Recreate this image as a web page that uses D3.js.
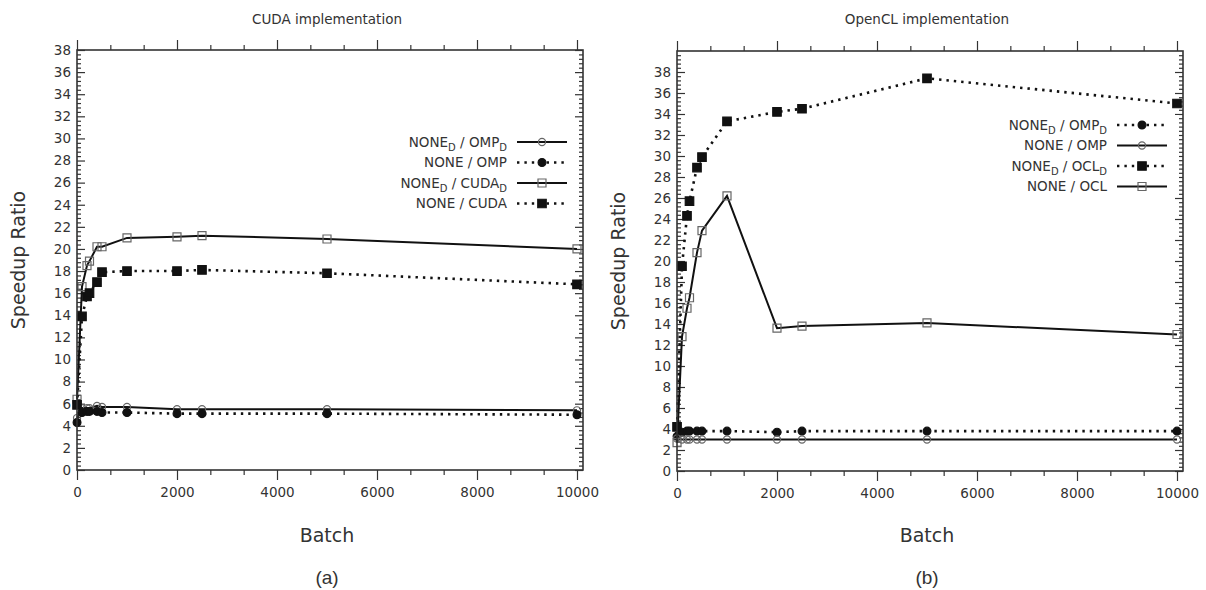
<!DOCTYPE html>
<html>
<head>
<meta charset="utf-8">
<script src="https://cdn.jsdelivr.net/npm/d3@7"></script>
<style>
body { margin: 0; background: #fff; }
text { font-family: "DejaVu Sans", sans-serif; fill: #333; }
</style>
</head>
<body>
<svg id="canvas"></svg>
<script>
let batch = [1, 100, 200, 250, 400, 500, 1000, 2000, 2500, 5000, 10000];

// CUDA panel
let cudaLabels = ['NONE_D / OMP_D', 'NONE / OMP', 'NONE_D / CUDA_D', 'NONE / CUDA'];
let cudaOmpD  = [4.7, 5.6, 5.6, 5.6, 5.8, 5.7, 5.7, 5.5, 5.5, 5.5, 5.4];
let cudaOmp   = [4.3, 5.2, 5.3, 5.3, 5.3, 5.2, 5.2, 5.1, 5.1, 5.1, 5.0];
let cudaCudaD = [6.4, 16.6, 18.5, 18.9, 20.2, 20.2, 21.0, 21.1, 21.2, 20.9, 20.0];
let cudaCuda  = [5.9, 13.9, 15.7, 16.0, 17.0, 17.9, 18.0, 18.0, 18.1, 17.8, 16.8];

// OpenCL panel
let oclLabels = ['NONE_D / OMP_D', 'NONE / OMP', 'NONE_D / OCL_D', 'NONE / OCL'];
let oclOmpD = [3.3, 3.7, 3.8, 3.8, 3.8, 3.8, 3.8, 3.7, 3.8, 3.8, 3.8];
let oclOmp  = [3.1, 3.0, 3.0, 3.0, 3.0, 3.0, 3.0, 3.0, 3.0, 3.0, 3.0];
let oclOclD = [4.2, 19.5, 24.3, 25.7, 28.9, 29.9, 33.3, 34.2, 34.5, 37.4, 35.0];
let oclOcl  = [2.7, 12.8, 15.5, 16.5, 20.8, 22.9, 26.2, 13.6, 13.8, 14.1, 13.0];

let xTicks = [0, 2000, 4000, 6000, 8000, 10000];
let yTicks = [0, 2, 4, 6, 8, 10, 12, 14, 16, 18, 20, 22, 24, 26, 28, 30, 32, 34, 36, 38];

let width = 1206;
let height = 590;

let canvas = d3.select('#canvas');
canvas.attr('width', width);
canvas.attr('height', height);

// marker / line styles
let openCircle  = {symbol: d3.symbolCircle, size: 40, fill: 'none', stroke: '#666', dotted: false};
let fullCircle  = {symbol: d3.symbolCircle, size: 48, fill: '#111', stroke: '#111', dotted: true};
let openSquare  = {symbol: d3.symbolSquare, size: 64, fill: 'none', stroke: '#666', dotted: false};
let fullSquare  = {symbol: d3.symbolSquare, size: 72, fill: '#111', stroke: '#111', dotted: true};

let panels = [
    {
        title: 'CUDA implementation', caption: '(a)',
        left: 77, right: 583, top: 50, bottom: 470, yMax: 38,
        labels: cudaLabels,
        values: [cudaOmpD, cudaOmp, cudaCudaD, cudaCuda],
        styles: [openCircle, fullCircle, openSquare, fullSquare],
        legendTop: 142
    },
    {
        title: 'OpenCL implementation', caption: '(b)',
        left: 677, right: 1183, top: 51, bottom: 471, yMax: 40,
        labels: oclLabels,
        values: [oclOmpD, oclOmp, oclOclD, oclOcl],
        styles: [fullCircle, openCircle, fullSquare, openSquare],
        legendTop: 125
    }
];

let addLabel = (sel, label) => {
    // "_D" turns into a subscript D
    let parts = label.split('_D');
    parts.forEach((part, i) => {
        sel.append('tspan').attr('dy', i > 0 ? '-4' : null).text(part);
        if (i < parts.length - 1) {
            sel.append('tspan').attr('font-size', 10).attr('dy', '4').text('D');
        }
    });
};

let drawPanel = (p) => {
    let xScale = d3.scaleLinear()
                   .domain([0, 10120])
                   .range([p.left, p.right]);
    let yScale = d3.scaleLinear()
                   .domain([0, p.yMax])
                   .range([p.bottom, p.top]);

    let g = canvas.append('g');

    let yMinor = d3.range(0, p.yMax + 0.01, 0.4).filter((v) => Math.abs(v / 2 - Math.round(v / 2)) > 0.01);
    let xMinor = d3.range(0, 10001, 2000 / 3).filter((v) => Math.abs(v / 2000 - Math.round(v / 2000)) > 0.01);

    let styleAxis = (a) => {
        a.attr('color', '#333').attr('font-family', null).attr('font-size', null);
        a.select('.domain').remove();
        a.selectAll('line').attr('stroke-width', 1.2);
        a.selectAll('text').attr('font-size', 13.5);
    };

    // y ticks, both sides, pointing in
    g.append('g').attr('transform', 'translate(' + p.left + ',0)')
     .call(d3.axisLeft(yScale).tickValues(yTicks).tickSize(-8).tickPadding(6))
     .call(styleAxis);
    g.append('g').attr('transform', 'translate(' + p.left + ',0)')
     .call(d3.axisLeft(yScale).tickValues(yMinor).tickSize(-4).tickFormat(''))
     .call(styleAxis);
    g.append('g').attr('transform', 'translate(' + p.right + ',0)')
     .call(d3.axisRight(yScale).tickValues(yTicks).tickSize(-8).tickFormat(''))
     .call(styleAxis);
    g.append('g').attr('transform', 'translate(' + p.right + ',0)')
     .call(d3.axisRight(yScale).tickValues(yMinor).tickSize(-4).tickFormat(''))
     .call(styleAxis);

    // x ticks, both sides, pointing out
    g.append('g').attr('transform', 'translate(0,' + p.bottom + ')')
     .call(d3.axisBottom(xScale).tickValues(xTicks).tickSize(10).tickPadding(7).tickFormat(d3.format('d')))
     .call(styleAxis);
    g.append('g').attr('transform', 'translate(0,' + p.bottom + ')')
     .call(d3.axisBottom(xScale).tickValues(xMinor).tickSize(5).tickFormat(''))
     .call(styleAxis);
    g.append('g').attr('transform', 'translate(0,' + p.top + ')')
     .call(d3.axisTop(xScale).tickValues(xTicks).tickSize(10).tickFormat(''))
     .call(styleAxis);
    g.append('g').attr('transform', 'translate(0,' + p.top + ')')
     .call(d3.axisTop(xScale).tickValues(xMinor).tickSize(5).tickFormat(''))
     .call(styleAxis);

    // legend box hides the minor ticks behind it
    let rowGap = 20.5;
    let legendRight = p.right - 76;
    g.append('rect')
     .attr('x', legendRight - 122)
     .attr('y', p.legendTop - 10)
     .attr('width', 122 + 72)
     .attr('height', rowGap * 3 + 20)
     .attr('fill', '#fff');

    let line = d3.line()
                 .x((d) => xScale(d.batch))
                 .y((d) => yScale(d.value));

    p.values.forEach((vals, i) => {
        let st = p.styles[i];
        let pts = batch.map((b, j) => ({batch: b, value: vals[j]}));

        g.append('path')
         .datum(pts)
         .attr('d', line)
         .attr('fill', 'none')
         .attr('stroke', '#111')
         .attr('stroke-width', st.dotted ? 2.6 : 2)
         .attr('stroke-dasharray', st.dotted ? '2.4,5' : null);

        g.selectAll('.m' + i)
         .data(pts)
         .enter()
         .append('path')
         .attr('class', 'm' + i)
         .attr('transform', (d) => 'translate(' + xScale(d.batch) + ',' + yScale(d.value) + ')')
         .attr('d', d3.symbol().type(st.symbol).size(st.size))
         .attr('fill', st.fill)
         .attr('stroke', st.stroke)
         .attr('stroke-width', 1.2);

        // legend row
        let ly = p.legendTop + i * rowGap;
        let t = g.append('text')
                 .attr('x', legendRight)
                 .attr('y', ly)
                 .attr('dy', '0.35em')
                 .attr('text-anchor', 'end')
                 .attr('font-size', 13.5);
        addLabel(t, p.labels[i]);

        g.append('line')
         .attr('x1', legendRight + 10).attr('x2', legendRight + 60)
         .attr('y1', ly).attr('y2', ly)
         .attr('stroke', '#111')
         .attr('stroke-width', st.dotted ? 2.6 : 2)
         .attr('stroke-dasharray', st.dotted ? '2.4,5' : null);
        g.append('path')
         .attr('transform', 'translate(' + (legendRight + 35) + ',' + ly + ')')
         .attr('d', d3.symbol().type(st.symbol).size(st.size))
         .attr('fill', st.fill)
         .attr('stroke', st.stroke)
         .attr('stroke-width', 1.2);
    });

    // frame
    g.append('rect')
     .attr('x', p.left).attr('y', p.top)
     .attr('width', p.right - p.left).attr('height', p.bottom - p.top)
     .attr('fill', 'none')
     .attr('stroke', '#333')
     .attr('stroke-width', 1.6);

    let mid = (p.left + p.right) / 2 - 3;
    g.append('text').attr('x', mid).attr('y', 24)
     .attr('text-anchor', 'middle').attr('font-size', 13.5)
     .text(p.title);
    g.append('text').attr('x', mid).attr('y', 542)
     .attr('text-anchor', 'middle').attr('font-size', 19)
     .text('Batch');
    g.append('text')
     .attr('transform', 'translate(' + (p.left - 52) + ',' + ((p.top + p.bottom) / 2) + ') rotate(-90)')
     .attr('text-anchor', 'middle').attr('font-size', 19)
     .text('Speedup Ratio');
    g.append('text').attr('x', mid).attr('y', 584)
     .attr('text-anchor', 'middle').attr('font-size', 19)
     .style('font-family', '"Liberation Sans", Arial, sans-serif')
     .text(p.caption);
};

panels.forEach(drawPanel);
</script>
</body>
</html>
